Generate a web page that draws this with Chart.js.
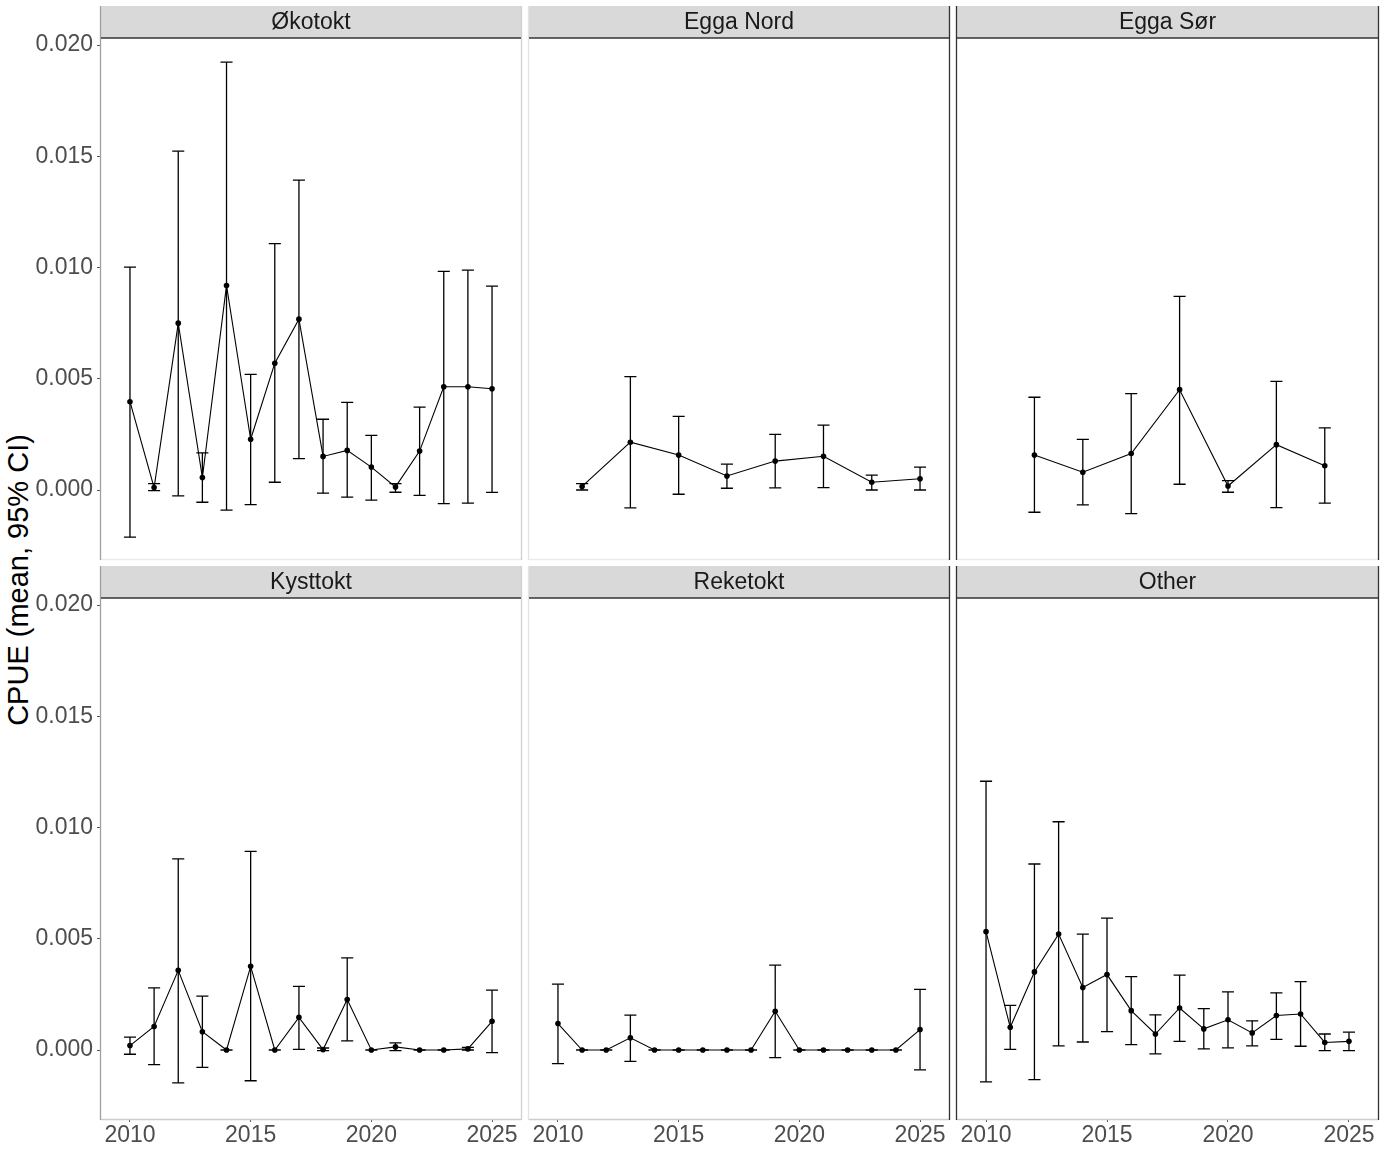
<!DOCTYPE html>
<html lang="no">
<head>
  <meta charset="UTF-8">
  <title>CPUE per tokt</title>
  <script src="https://cdn.jsdelivr.net/npm/chart.js"></script>
  <style>
    body {
      margin: 0;
      background: #fff;
    }
    #wrap {
      position: relative;
      width: 1386px;
      height: 1154px;
      overflow: hidden;
      font-family: "Liberation Sans", Arial, sans-serif;
    }
    #wrap canvas {
      position: absolute;
    }
    #ytitle {
      position: absolute;
      left: 18px;
      top: 580px;
      transform: translate(-50%, -50%) rotate(-90deg);
      font-size: 29px;
      color: #000;
      white-space: nowrap;
    }
  </style>
</head>
<body>
  <div id="wrap">
    <div id="ytitle">CPUE (mean, 95% CI)</div>
  </div>

  <script>
    // facet names
    const panelNames = ["Økotokt", "Egga Nord", "Egga Sør", "Kysttokt", "Reketokt", "Other"];

    // tick labels
    const xTicks = [2010, 2015, 2020, 2025];
    const yTicks = [0, 0.005, 0.010, 0.015, 0.020];

    // years
    const allYears = [2010, 2011, 2012, 2013, 2014, 2015, 2016, 2017, 2018, 2019, 2020, 2021, 2022, 2023, 2024, 2025];
    const eggaNordYears = [2011, 2013, 2015, 2017, 2019, 2021, 2023, 2025];
    const eggaSorYears = [2012, 2014, 2016, 2018, 2020, 2022, 2024];

    // Økotokt
    const okoMean = [0.00397, 0.00011, 0.0075, 0.00056, 0.00919, 0.00228, 0.0057, 0.00768, 0.00151, 0.00178, 0.00103, 0.00014, 0.00175, 0.00464, 0.00464, 0.00455];
    const okoLo = [-0.00212, -0.00003, -0.00026, -0.00055, -0.0009, -0.00066, 0.00035, 0.00141, -0.00014, -0.00032, -0.00045, -0.0001, -0.00024, -0.00061, -0.00059, -0.00011];
    const okoHi = [0.01002, 0.00029, 0.01523, 0.00167, 0.01923, 0.0052, 0.01107, 0.01393, 0.00318, 0.00394, 0.00246, 0.00029, 0.00373, 0.00983, 0.00988, 0.00916];

    // Egga Nord
    const nordMean = [0.00016, 0.00215, 0.00157, 0.00063, 0.0013, 0.00152, 0.00035, 0.00051];
    const nordLo = [0.0, -0.0008, -0.00019, 0.00008, 0.0001, 0.00011, 0.0, 0.0];
    const nordHi = [0.00029, 0.0051, 0.00331, 0.00116, 0.0025, 0.00292, 0.00067, 0.00103];

    // Egga Sør
    const sorMean = [0.00157, 0.0008, 0.00164, 0.00451, 0.00018, 0.00204, 0.00109];
    const sorLo = [-0.001, -0.00067, -0.00106, 0.00026, -0.0001, -0.00079, -0.00059];
    const sorHi = [0.00417, 0.00228, 0.00433, 0.0087, 0.00042, 0.00488, 0.00279];

    // Kysttokt
    const kystMean = [0.0002, 0.00106, 0.00358, 0.00082, 0, 0.00376, 0, 0.00147, 0.00002, 0.00227, 0, 0.00014, 0, 0, 0.00005, 0.00129];
    const kystLo = [-0.00019, -0.00066, -0.00148, -0.00078, 0, -0.00138, 0, 0.00003, -0.00003, 0.00041, 0, -0.00003, 0, 0, 0, -0.00012];
    const kystHi = [0.00058, 0.00279, 0.00859, 0.00242, 0, 0.00893, 0, 0.00286, 0.00009, 0.00414, 0, 0.00032, 0, 0, 0.00012, 0.00269];

    // Reketokt
    const rekeMean = [0.00119, 0, 0, 0.00055, 0, 0, 0, 0, 0, 0.00174, 0, 0, 0, 0, 0, 0.00092];
    const rekeLo = [-0.00061, 0, 0, -0.00051, 0, 0, 0, 0, 0, -0.00034, 0, 0, 0, 0, 0, -0.00089];
    const rekeHi = [0.00296, 0, 0, 0.00157, 0, 0, 0, 0, 0, 0.00382, 0, 0, 0, 0, 0, 0.00273];

    // Other
    const otherMean = [0.00532, 0.00102, 0.00351, 0.00521, 0.00281, 0.00339, 0.00177, 0.00072, 0.00189, 0.00095, 0.00136, 0.00077, 0.00155, 0.00162, 0.00034, 0.00039];
    const otherLo = [-0.00143, 0.00003, -0.00133, 0.00019, 0.00036, 0.00083, 0.00024, -0.00017, 0.00039, 0.00005, 0.0001, 0.00019, 0.00048, 0.00017, -0.00003, -0.00003];
    const otherHi = [0.01208, 0.00201, 0.00836, 0.01026, 0.00521, 0.00593, 0.0033, 0.00158, 0.00337, 0.00186, 0.00261, 0.00131, 0.00257, 0.00307, 0.00072, 0.0008];

    const panels = [
      { years: allYears, mean: okoMean, lo: okoLo, hi: okoHi },
      { years: eggaNordYears, mean: nordMean, lo: nordLo, hi: nordHi },
      { years: eggaSorYears, mean: sorMean, lo: sorLo, hi: sorHi },
      { years: allYears, mean: kystMean, lo: kystLo, hi: kystHi },
      { years: allYears, mean: rekeMean, lo: rekeLo, hi: rekeHi },
      { years: allYears, mean: otherMean, lo: otherLo, hi: otherHi },
    ];

    // page layout of the facet grid (px)
    const colLeft = [101, 529, 957];
    const colRight = [521, 949, 1378];
    const rowTop = [38, 598];
    const rowBottom = [559, 1119];
    const stripH = 32;
    const capHalf = 0.25; // half width of error bar caps, in years

    const fontFamily = '"Liberation Sans", Arial, sans-serif';
    Chart.defaults.font.family = fontFamily;

    // strip on top + panel frame lines
    const facetFrame = {
      id: "facetFrame",
      afterDraw(chart, args, opts) {
        const { ctx, chartArea: a } = chart;
        ctx.save();
        ctx.fillStyle = "#d9d9d9";
        ctx.fillRect(a.left, a.top - stripH, a.right - a.left, stripH);
        ctx.fillStyle = "#1a1a1a";
        ctx.font = "23px " + fontFamily;
        ctx.textAlign = "center";
        ctx.textBaseline = "middle";
        ctx.fillText(opts.label, (a.left + a.right) / 2, a.top - stripH / 2 + 1);

        ctx.lineWidth = 1.3;
        ctx.strokeStyle = opts.bottomColor;
        ctx.beginPath();
        ctx.moveTo(a.left, a.bottom + 0.5);
        ctx.lineTo(a.right, a.bottom + 0.5);
        ctx.stroke();

        ctx.strokeStyle = opts.leftColor;
        ctx.beginPath();
        ctx.moveTo(a.left - 0.5, a.top - stripH);
        ctx.lineTo(a.left - 0.5, a.bottom + 1);
        ctx.stroke();

        ctx.strokeStyle = opts.rightColor;
        ctx.beginPath();
        ctx.moveTo(a.right + 0.5, a.top - stripH);
        ctx.lineTo(a.right + 0.5, a.bottom + 1);
        ctx.stroke();

        ctx.strokeStyle = "#333333";
        ctx.lineWidth = 1.5;
        ctx.beginPath();
        ctx.moveTo(a.left, a.top);
        ctx.lineTo(a.right, a.top);
        ctx.stroke();
        ctx.restore();
      }
    };

    const leftColors = ["#a0a0a0", "#e3e3e3", "#333333"];
    const rightColors = ["#d0d0d0", "#333333", "#333333"];

    const wrap = document.getElementById("wrap");

    panels.forEach((p, i) => {
      const c = i % 3;
      const r = Math.floor(i / 3);

      const left = c === 0 ? 0 : colLeft[c] - 4;
      const width = colRight[c] + 4 - left;
      const top = rowTop[r] - stripH - 2;
      const height = (r === 0 ? rowBottom[0] + 4 : 1154) - top;

      const canvas = document.createElement("canvas");
      canvas.width = width;
      canvas.height = height;
      canvas.style.left = left + "px";
      canvas.style.top = top + "px";
      canvas.style.width = width + "px";
      canvas.style.height = height + "px";
      wrap.appendChild(canvas);

      // error bars as broken line segments (null breaks the line)
      const bars = [];
      const caps = [];
      p.years.forEach((yr, k) => {
        bars.push({ x: yr, y: p.lo[k] }, { x: yr, y: p.hi[k] }, { x: yr, y: null });
        caps.push({ x: yr - capHalf, y: p.hi[k] }, { x: yr + capHalf, y: p.hi[k] }, { x: yr, y: null });
        caps.push({ x: yr - capHalf, y: p.lo[k] }, { x: yr + capHalf, y: p.lo[k] }, { x: yr, y: null });
      });
      const means = p.years.map((yr, k) => ({ x: yr, y: p.mean[k] }));

      new Chart(canvas.getContext("2d"), {
        type: "line",
        data: {
          datasets: [
            { data: bars, borderColor: "#000", borderWidth: 1.3, pointRadius: 0, spanGaps: false },
            { data: caps, borderColor: "#000", borderWidth: 1.3, pointRadius: 0, spanGaps: false },
            {
              data: means,
              borderColor: "#000",
              borderWidth: 1.1,
              pointRadius: 2.8,
              pointBackgroundColor: "#000",
              pointBorderWidth: 0,
              tension: 0,
            },
          ],
        },
        options: {
          responsive: false,
          animation: false,
          layout: {
            padding: { left: c === 0 ? 0 : 4, right: 4, top: stripH + 2, bottom: r === 0 ? 4 : 0 },
          },
          plugins: {
            legend: { display: false },
            tooltip: { enabled: false },
            facetFrame: {
              label: panelNames[i],
              leftColor: leftColors[c],
              rightColor: rightColors[c],
              bottomColor: r === 0 ? "#ebebeb" : "#cccccc",
            },
          },
          scales: {
            x: {
              type: "linear",
              display: r === 1,
              min: 2008.8,
              max: 2026.2,
              afterBuildTicks: (s) => { s.ticks = xTicks.map((v) => ({ value: v })); },
              afterFit: (s) => {
                s.height = r === 1 ? 1154 - rowBottom[1] : 0;
                s.paddingLeft = 0;
                s.paddingRight = 0;
              },
              ticks: {
                color: "#4d4d4d",
                font: { size: 23 },
                padding: 0,
                maxRotation: 0,
                callback: (v) => String(v),
              },
              grid: { drawOnChartArea: false, drawTicks: true, tickLength: 3, color: "#555" },
              border: { display: false },
            },
            y: {
              type: "linear",
              display: c === 0,
              min: -0.0031,
              max: 0.020315,
              afterBuildTicks: (s) => { s.ticks = yTicks.map((v) => ({ value: v })); },
              afterFit: (s) => {
                s.width = c === 0 ? colLeft[0] : 0;
                s.paddingTop = 0;
                s.paddingBottom = 0;
              },
              ticks: {
                color: "#4d4d4d",
                font: { size: 23 },
                padding: 4,
                callback: (v) => v.toFixed(3),
              },
              grid: { drawOnChartArea: false, drawTicks: true, tickLength: 4, color: "#555" },
              border: { display: false },
            },
          },
        },
        plugins: [facetFrame],
      });
    });
  </script>
</body>
</html>
